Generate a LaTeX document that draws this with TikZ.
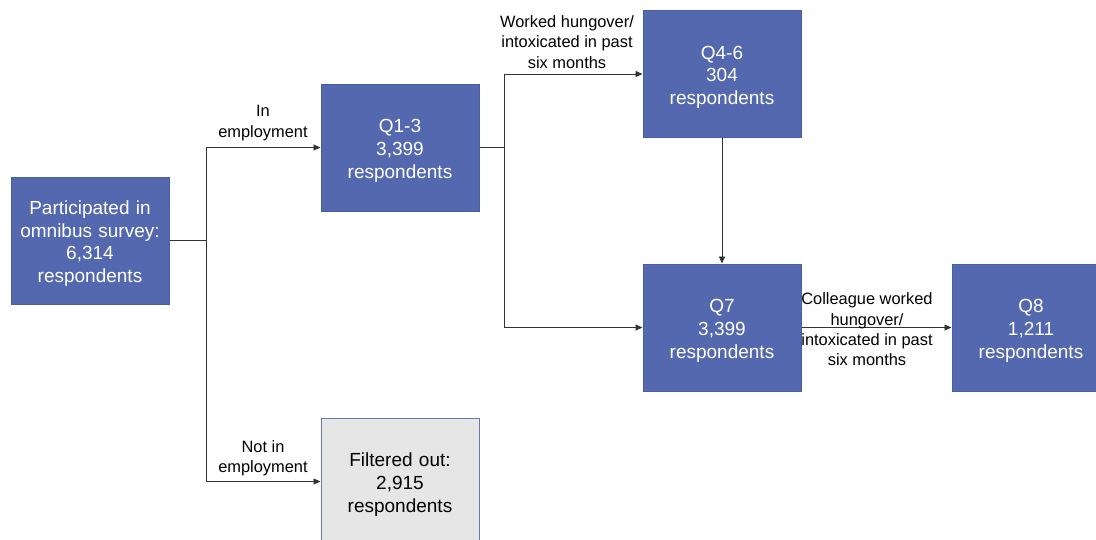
\documentclass[tikz,border=0pt]{standalone}
\usepackage{fontspec}
\setmainfont{Liberation Sans}
\usetikzlibrary{arrows.meta}
\definecolor{boxblue}{HTML}{5468B0}
\definecolor{boxedge}{HTML}{4A5EA6}
\definecolor{greyfill}{HTML}{E6E6E6}
\definecolor{greyedge}{HTML}{6878B0}
\definecolor{linecol}{HTML}{333333}
\tikzset{
  stagebox/.style={draw=boxedge, line width=1pt, fill=boxblue, text=white,
    minimum width=158pt, minimum height=127pt, inner sep=0pt,
    text width=150pt, align=center,
    execute at begin node={\rule{0pt}{19.8pt}},
    font=\fontsize{19}{22.7}\selectfont},
  greybox/.style={stagebox, fill=greyfill, draw=greyedge, text=black},
  lbl/.style={align=center, inner sep=0pt, text=black,
    font=\fontsize{16.4}{20.3}\selectfont},
  conn/.style={draw=linecol, line width=0.9pt},
  arr/.style={conn, -{Triangle[length=7pt,width=6pt]}}
}
\begin{document}
\begin{tikzpicture}[x=1pt,y=-1pt]
\useasboundingbox (0,0) rectangle (1096,539);
\clip (0,0) rectangle (1096,539);
\node[stagebox] (P) at (90,240.5) {Participated in\\omnibus survey:\\6,314\\respondents};
\node[stagebox] (Q13) at (400,147.5) {Q1-3\\3,399\\respondents};
\node[stagebox] (Q46) at (722,74) {Q4-6\\304\\respondents};
\node[stagebox] (Q7) at (722,327.5) {Q7\\3,399\\respondents};
\node[stagebox] (Q8) at (1031,327.5) {Q8\\1,211\\respondents};
\node[greybox] (F) at (400,481.5) {Filtered out:\\2,915\\respondents};

\coordinate (j1) at (206,240.5);
\coordinate (j2) at (504,147.5);

\draw[conn] (P.east) -- (j1);
\draw[arr] (j1) |- (Q13.west);
\draw[arr] (j1) |- (F.west);
\draw[conn] (Q13.east) -- (j2);
\draw[arr] (j2) |- (Q46.west);
\draw[arr] (j2) |- (Q7.west);
\draw[arr] (Q46.south) -- (Q7.north);
\draw[arr] (Q7.east) -- (Q8.west);

\node[lbl] (l1) at (263,123) {In\\employment};
\node[lbl] (l2) at (263,458) {Not in\\employment};
\node[lbl] (l3) at (567,42) {Worked hungover/\\intoxicated in past\\six months};
\node[lbl] (l4) at (867,329.5) {Colleague worked\\hungover/\\intoxicated in past\\six months};
\end{tikzpicture}
\end{document}
